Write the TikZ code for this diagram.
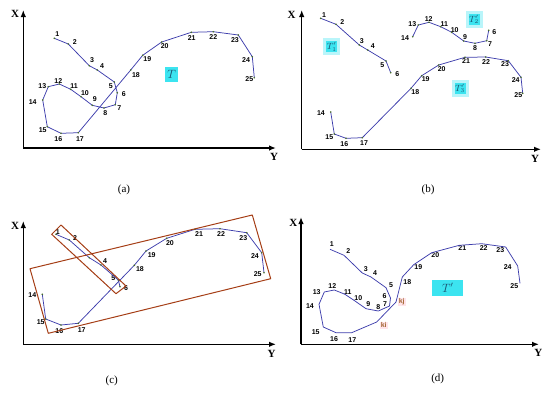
\documentclass[tikz,border=0pt]{standalone}
\usepackage{fontspec}
\setmainfont{Liberation Serif}
\newfontfamily\labfont{Liberation Sans}
\usetikzlibrary{arrows.meta}
\definecolor{trjc}{RGB}{62,62,172}
\definecolor{ptc}{RGB}{70,110,40}
\definecolor{rectc}{RGB}{165,62,22}
\definecolor{boxc}{RGB}{60,228,240}
\definecolor{haloc}{RGB}{185,245,250}
\definecolor{tc}{RGB}{25,80,110}
\definecolor{kc}{RGB}{165,105,55}
\definecolor{kbg}{RGB}{255,228,234}
\begin{document}
\begin{tikzpicture}[x=1pt,y=-1pt,
  axisline/.style={black,line width=1.3pt,-{Latex[length=7pt,width=5.5pt]}},
  axlab/.style={font=\bfseries\fontsize{11}{12}\selectfont,inner sep=0pt},
  trj/.style={trjc,line width=0.75pt,line join=round},
  lab/.style={font=\labfont\bfseries\fontsize{7}{7}\selectfont,inner sep=0pt},
  captext/.style={font=\fontsize{11}{12}\selectfont,inner sep=0pt},
  tbox/.style={fill=boxc,text=tc,inner sep=0pt,minimum width=13pt,minimum height=15pt,font=\fontsize{12}{12}\selectfont},
  tsub/.style={fill=boxc,text=tc,inner sep=0pt,minimum width=14pt,minimum height=14pt,font=\fontsize{9}{9}\selectfont,draw=haloc,line width=3pt},
  rbox/.style={rectc,line width=1pt,line join=round},
  klab/.style={lab,text=kc,fill=kbg,inner sep=1pt}]
\useasboundingbox (0,0) rectangle (550,392);

% ---------------- panel (a)
\coordinate (ao) at (23.3,148);
\coordinate (at) at (23.3,10);
\coordinate (ae) at (276,148);
\draw[axisline] (ao) -- (at);
\draw[axisline] (ao) -- (ae);
\node[axlab] (aX) at (15,14) {X};
\node[axlab] (aY) at (274,157) {Y};
\foreach \n/\x/\y/\lx/\ly in {1/54.3/38.3/57.3/34.3,2/68.3/44/74.7/41.7,3/89.3/65.7/92/60,4/97.3/70/102/65.7,5/114.3/82/110.7/85.7,6/117.3/92.7/123.7/94.3,7/115.3/104.7/119.3/108.3,8/104/108/105.3/113.3,9/92.3/105.3/94.7/99.3,10/81/96.7/85/93.3,11/70.7/89.3/74/85.7,12/59.3/84/58.3/80.7,13/48.3/86.7/42.3/86,14/42.7/100/32.7/102,15/47.3/126.7/42.7/130.3,16/61/133.3/58.3/139.3,17/78.3/132.7/80/138.7,18/130.7/70/136/74.7,19/142.7/55.3/147.3/59,20/161.7/42/164.7/46.3,21/191.3/32.3/191.7/37.7,22/213.3/31.7/213.3/37.3,23/238.3/35/235/40.3,24/252.3/56.7/246/60.3,25/254.3/77.7/249.3/79}{
  \coordinate (a\n) at (\x,\y);
  \node[lab] (la\n) at (\lx,\ly) {\n};
}
\draw[trj] (a1) \foreach \i in {2,...,25}{ -- (a\i)};
\foreach \i in {1,...,25}{\fill[ptc] (a\i) circle (0.9pt);}
\node[tbox] (aT) at (171.7,74) {$T$};
\node[captext] (capa) at (124,190) {(a)};

% ---------------- panel (b)
\coordinate (bo) at (301.7,149.3);
\coordinate (bt) at (301.7,10);
\coordinate (be) at (541,149.3);
\draw[axisline] (bo) -- (bt);
\draw[axisline] (bo) -- (be);
\node[axlab] (bX) at (291.7,15) {X};
\node[axlab] (bY) at (535,159.3) {Y};
\foreach \n/\x/\y/\lx/\ly in {1/320.7/18.3/324/15,2/336/24.3/342.3/22.3,3/359.3/45/361.7/40.7,4/367.7/50/372.7/45.7,5/386/61/382.3/65,6/390.7/72.7/397.3/74}{
  \coordinate (b\n) at (\x,\y);
  \node[lab] (lb\n) at (\lx,\ly) {\n};
}
\draw[trj] (b1) \foreach \i in {2,...,6}{ -- (b\i)};
\foreach \i in {1,...,6}{\fill[ptc] (b\i) circle (0.9pt);}
\foreach \n/\x/\y/\lx/\ly in {14/412.7/36.7/405/37.7,13/418.3/25/412.3/24.3,12/429/22.3/428.7/19.3,11/440.7/26.7/444.3/24,10/451.7/32.3/454.7/30,9/463.7/41/465/36.7,8/475/43.3/475/47.7,7/486.7/40.7/490/43.7,6/488.7/30.3/494.3/31.7}{
  \coordinate (c\n) at (\x,\y);
  \node[lab] (lc\n) at (\lx,\ly) {\n};
}
\draw[trj] (c14) \foreach \i in {13,12,...,6}{ -- (c\i)};
\foreach \i in {6,...,14}{\fill[ptc] (c\i) circle (0.9pt);}
\foreach \n/\x/\y/\lx/\ly in {14/330.7/112/321/113.3,15/334.3/134/329.3/136.7,16/346/138.3/344.3/144,17/362.3/137.7/364/143.3,18/411/88.3/415.3/92.3,19/421.7/75.7/425.7/79.3,20/438.7/65/441.7/69,21/465/57.3/466/61.3,22/485.7/57/486/62,23/508.3/60.7/505/63.7,24/521/77.3/515.7/80.3,25/522.7/93.3/518.3/95}{
  \coordinate (d\n) at (\x,\y);
  \node[lab] (ld\n) at (\lx,\ly) {\n};
}
\draw[trj] (d14) \foreach \i in {15,...,25}{ -- (d\i)};
\foreach \i in {14,...,25}{\fill[ptc] (d\i) circle (0.9pt);}
\node[tsub] (bT1) at (331.7,46.7) {$T_1'$};
\node[tsub] (bT2) at (474,19.3) {$T_2'$};
\node[tsub] (bT3) at (460,88.3) {$T_3'$};
\node[captext] (capb) at (428,190) {(b)};

% ---------------- panel (c)
\coordinate (co) at (23.3,344.3);
\coordinate (ct) at (23.3,221);
\coordinate (ce) at (276,344.3);
\draw[axisline] (co) -- (ct);
\draw[axisline] (co) -- (ce);
\node[axlab] (cX) at (15,226) {X};
\node[axlab] (cY) at (271.7,354.3) {Y};
\foreach \n/\x/\y in {1/56/234.3,2/69.3/240,3/89.3/257.7,4/101/265,5/118.3/280,6/120/286.7}{
  \coordinate (e\n) at (\x,\y);
}
\foreach \n/\lx/\ly in {1/57.7/231.7,2/75/238.3,4/105/261,5/113.3/278.3,6/126/288.3}{
  \node[lab] (le\n) at (\lx,\ly) {\n};
}
\draw[trj] (e1) \foreach \i in {2,...,6}{ -- (e\i)};
\foreach \i in {1,...,6}{\fill[ptc] (e\i) circle (0.9pt);}
\foreach \n/\x/\y/\lx/\ly in {14/42.3/294.3/32.3/295.3,15/45.7/319/40.7/321.7,16/61/325/59.3/330.7,17/78.3/323.3/81.7/330.3,18/134.3/265.3/140/269.3,19/146/251/151.7/255,20/166.7/238.3/170/243,21/195/229.3/199/234.3,22/220/228.7/221/234.3,23/246.7/232.7/243.3/237.7,24/261.7/252.7/255/256.3,25/264/272.7/257.7/274}{
  \coordinate (f\n) at (\x,\y);
  \node[lab] (lf\n) at (\lx,\ly) {\n};
}
\draw[trj] (f14) \foreach \i in {15,...,25}{ -- (f\i)};
\foreach \i in {14,...,25}{\fill[ptc] (f\i) circle (0.9pt);}
\coordinate (R1) at (30,268.7);
\coordinate (R2) at (252.3,215);
\coordinate (R3) at (270.7,278.7);
\coordinate (R4) at (48.3,333.3);
\draw[rbox] (R1) -- (R2) -- (R3) -- (R4) -- cycle;
\coordinate (S1) at (51.7,234.3);
\coordinate (S2) at (61,225);
\coordinate (S3) at (126,286);
\coordinate (S4) at (116,293.7);
\draw[rbox] (S1) -- (S2) -- (S3) -- (S4) -- cycle;
\node[captext] (capc) at (111.7,381) {(c)};

% ---------------- panel (d)
\coordinate (go) at (301,344.3);
\coordinate (gt) at (301,217);
\coordinate (ge) at (539,344.3);
\draw[axisline] (go) -- (gt);
\draw[axisline] (go) -- (ge);
\node[axlab] (gX) at (293.3,222.7) {X};
\node[axlab] (gY) at (538.3,353.3) {Y};
\foreach \n/\x/\y/\lx/\ly in {1/330/249.3/331.7/244.3,2/344/255.3/348.3/251,3/362.3/273/365.7/268.7,4/371/277/375/273.3,5/386/287.7/391/285.3,6/390.5/298/384.5/296,7/389.5/306/385/304.5,8/378.3/311/378.3/306.7,9/366/308.7/368.3/304.3,10/355/301/358.3/298,11/345/294.3/347.7/291.7,12/334.3/290/332.3/286,13/324.3/292/316.7/291.7,14/319/304.3/310/306,15/323.3/327/315.7/332,16/336/332.7/334/338.7,17/351.7/332.7/352.3/340.3,18/402.3/277/407.3/281.7,19/413.7/264.7/418.3/267,20/431.7/252.7/435.3/255.3,21/459.3/245.3/462.3/248,22/481.7/243.7/483.7/248,23/505.7/247/500.3/250.3,24/517.7/266/507.7/267,25/520/283.3/514.3/286}{
  \coordinate (g\n) at (\x,\y);
  \node[lab] (lg\n) at (\lx,\ly) {\n};
}
\coordinate (ki) at (376.7,322);
\coordinate (kj) at (396,302);
\draw[trj] (g1) \foreach \i in {2,...,17}{ -- (g\i)} -- (ki) -- (kj) \foreach \i in {18,...,25}{ -- (g\i)};
\node[klab] (lki) at (383.7,325.3) {ki};
\node[klab] (lkj) at (401.7,302) {kj};
\node[tbox,minimum width=31pt,minimum height=16pt] (gT) at (447.7,287.7) {$T'$};
\node[captext] (capd) at (437.7,378.7) {(d)};
\end{tikzpicture}
\end{document}
